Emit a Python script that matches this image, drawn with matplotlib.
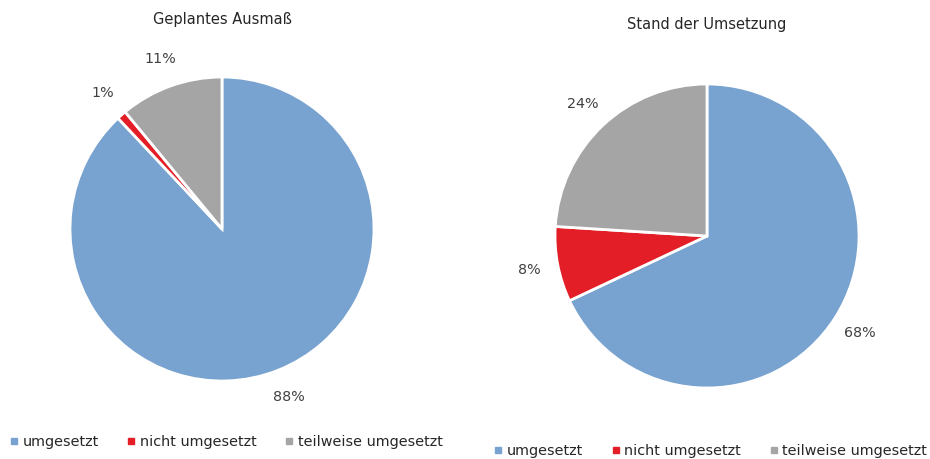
import matplotlib
matplotlib.use('Agg')
import matplotlib.pyplot as plt
from matplotlib.lines import Line2D

plt.rcParams['font.family'] = ['DejaVu Sans']

categories = ['umgesetzt', 'nicht umgesetzt', 'teilweise umgesetzt']
colors = ['#78A2CF', '#E31E26', '#A5A5A5']

geplant = [88, 1, 11]
stand = [68, 8, 24]

fig = plt.figure(figsize=(9.3, 4.59), dpi=100)
W, H = 930, 459


def pie_axes(cx, cy, r):
    # pixel centre/radius -> figure fraction
    return fig.add_axes([(cx - r) / W, (H - cy - r) / H, 2 * r / W, 2 * r / H])


def draw_pie(ax, values, title, title_y):
    ax.pie(values, colors=colors, startangle=90, counterclock=False,
           autopct=lambda p: f'{p:.0f}%', pctdistance=1.19,
           wedgeprops=dict(edgecolor='white', linewidth=2),
           textprops=dict(fontsize=10.3, color='#404040'))
    ax.set_xlim(-1, 1)
    ax.set_ylim(-1, 1)
    ax.set_aspect('equal')
    ax.set_title(title, fontsize=10.5, color='#262626', y=title_y)


ax1 = pie_axes(222, 229, 152)
draw_pie(ax1, geplant, 'Geplantes Ausmaß', 1.147)

ax2 = pie_axes(707, 236, 152)
draw_pie(ax2, stand, 'Stand der Umsetzung', 1.155)

handles = [Line2D([], [], marker='s', linestyle='none', markersize=4,
                  markerfacecolor=c, markeredgecolor=c) for c in colors]

for x, y in [(0.2435, 0.037), (0.7645, 0.0174)]:
    fig.legend(handles, categories, loc='center', bbox_to_anchor=(x, y),
               ncol=3, frameon=False, fontsize=10.4, handlelength=0.5,
               handletextpad=0.35, columnspacing=2.0, labelcolor='#262626')

fig.savefig('out.png', dpi=100, facecolor='white')
